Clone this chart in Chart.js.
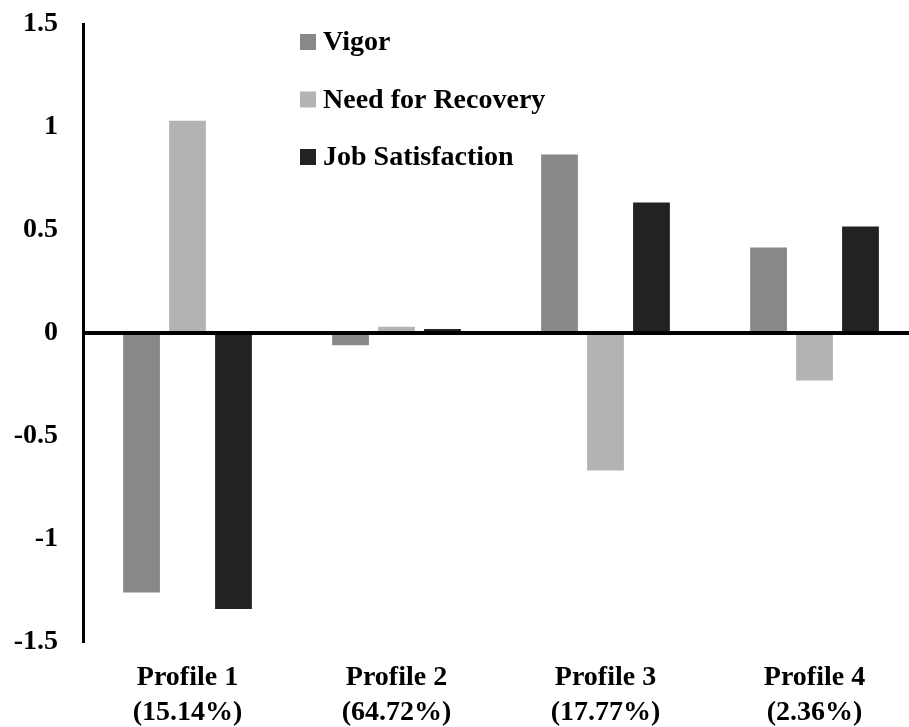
<!DOCTYPE html>
<html>
<head>
<meta charset="utf-8">
<script src="https://cdn.jsdelivr.net/npm/chart.js@4/dist/chart.umd.min.js"></script>
<style>
  html, body { margin: 0; padding: 0; background: #fff; overflow: hidden; }
  #wrap { position: absolute; left: 0; top: 0; width: 920px; height: 727px; }
</style>
</head>
<body>
<div id="wrap"><canvas id="profiles" width="920" height="727"></canvas></div>
<script>
const PROFILES = [
  ["Profile 1", "(15.14%)"],
  ["Profile 2", "(64.72%)"],
  ["Profile 3", "(17.77%)"],
  ["Profile 4", "(2.36%)"],
];

const VIGOR = [-1.26, -0.06, 0.866, 0.415];
const NEED_FOR_RECOVERY = [1.03, 0.03, -0.667, -0.23];
const JOB_SATISFACTION = [-1.34, 0.02, 0.633, 0.517];

const Y_TICKS = [-1.5, -1, -0.5, 0, 0.5, 1, 1.5];

const FONT = "'Liberation Serif', 'Times New Roman', serif";

const $ctx = document.getElementById("profiles");

// zero line runs across the whole plot, to the edge of the canvas
const zeroLine = {
  id: "zeroLine",
  afterDatasetsDraw(chart) {
    const { ctx, chartArea, scales } = chart;
    const y = scales.y.getPixelForValue(0);
    ctx.save();
    ctx.strokeStyle = "#000";
    ctx.lineWidth = 4;
    ctx.beginPath();
    ctx.moveTo(chartArea.left, y);
    ctx.lineTo(chart.width, y);
    ctx.stroke();
    ctx.restore();
  },
};

// legend stacked inside the plot area
const insideLegend = {
  id: "insideLegend",
  afterDraw(chart) {
    const { ctx } = chart;
    ctx.save();
    ctx.font = "bold 28px " + FONT;
    ctx.textBaseline = "middle";
    chart.data.datasets.forEach((ds, i) => {
      const y = 42 + i * 57.5;
      ctx.fillStyle = ds.backgroundColor;
      ctx.fillRect(300, y - 8, 16, 16);
      ctx.fillStyle = "#000";
      ctx.fillText(ds.label, 323, y + 1);
    });
    ctx.restore();
  },
};

new Chart($ctx, {
  type: "bar",
  data: {
    labels: PROFILES,
    datasets: [
      { label: "Vigor", data: VIGOR, backgroundColor: "#888888" },
      { label: "Need for Recovery", data: NEED_FOR_RECOVERY, backgroundColor: "#b3b3b3" },
      { label: "Job Satisfaction", data: JOB_SATISFACTION, backgroundColor: "#222222" },
    ],
  },
  options: {
    responsive: false,
    animation: false,
    layout: { padding: { top: 24, right: 1, left: 0, bottom: 0 } },
    datasets: {
      bar: { categoryPercentage: 0.66, barPercentage: 0.8 },
    },
    plugins: {
      legend: { display: false },
      tooltip: { enabled: false },
    },
    scales: {
      x: {
        grid: { display: false, drawTicks: false },
        border: { display: false },
        ticks: {
          color: "#000",
          font: { family: FONT, size: 28, weight: "bold", lineHeight: 1.25 },
          padding: 18,
        },
        afterFit(scale) {
          scale.height = 85;
        },
      },
      y: {
        min: -1.5,
        max: 1.5,
        grid: { display: false, drawTicks: false },
        border: { display: true, color: "#000", width: 3 },
        afterBuildTicks(scale) {
          scale.ticks = Y_TICKS.map((v) => ({ value: v }));
        },
        ticks: {
          color: "#000",
          font: { family: FONT, size: 28, weight: "bold", lineHeight: 1 },
          padding: 25,
          callback: (v) => String(v),
        },
        afterFit(scale) {
          scale.width = 83;
          scale.paddingTop = 0;
          scale.paddingBottom = 0;
        },
      },
    },
  },
  plugins: [zeroLine, insideLegend],
});
</script>
</body>
</html>
